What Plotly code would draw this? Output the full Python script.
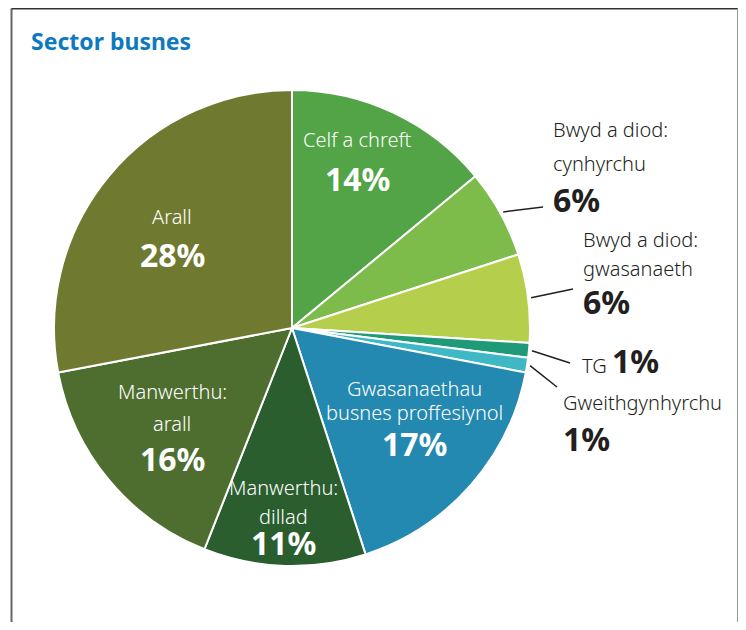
import math

import plotly.graph_objects as go

# data
sectors = [
    "Celf a chreft",
    "Bwyd a diod: cynhyrchu",
    "Bwyd a diod: gwasanaeth",
    "TG",
    "Gweithgynhyrchu",
    "Gwasanaethau busnes proffesiynol",
    "Manwerthu: dillad",
    "Manwerthu: arall",
    "Arall",
]
shares = [14, 6, 6, 1, 1, 17, 11, 16, 28]
label_lines = [
    ["Celf a chreft"],
    ["Bwyd a diod:", "cynhyrchu"],
    ["Bwyd a diod:", "gwasanaeth"],
    ["TG"],
    ["Gweithgynhyrchu"],
    ["Gwasanaethau", "busnes proffesiynol"],
    ["Manwerthu:", "dillad"],
    ["Manwerthu:", "arall"],
    ["Arall"],
]
colors = [
    "#52a447",
    "#7dbb4a",
    "#b5cf4c",
    "#1e9a78",
    "#3fb8c6",
    "#2389b0",
    "#2a5e2e",
    "#4e6e30",
    "#6f7a30",
]

# the page puts the plot 8px in from the top-left corner
OX, OY = 8, 8
W, H = 746 - OX, 630 - 2 * OY
CX, CY, R = 292, 328, 238
FONT = "Noto Sans"
LABEL_SIZE = 20
PCT_SIZE = 32


def px(x, y):
    return (x - OX) / W, 1 - (y - OY) / H


# label layout in page pixels: x, y of each text line, y of the percentage
label_pos = [
    dict(x=357, ys=[139], py=178, inside=True),
    dict(x=551, ys=[130, 163], py=199, inside=False, lead=(543, 207)),
    dict(x=581, ys=[240, 268], py=301, inside=False, lead=(573, 289)),
    dict(x=580, ys=[360], py=None, inside=False, lead=(570, 363)),
    dict(x=561, ys=[403], py=438, inside=False, lead=(557, 387)),
    dict(x=414, ys=[388, 412], py=443, inside=True),
    dict(x=283, ys=[487, 516], py=542, inside=True),
    dict(x=172, ys=[392, 423], py=458, inside=True),
    dict(x=172, ys=[217], py=255, inside=True),
]

x0d, y1d = px(CX - R, CY - R)
x1d, y0d = px(CX + R, CY + R)
fig = go.Figure(
    go.Pie(
        labels=sectors,
        values=shares,
        sort=False,
        direction="clockwise",
        rotation=0,
        marker=dict(colors=colors, line=dict(color="white", width=2)),
        textinfo="none",
        hoverinfo="label+percent",
        domain=dict(x=[x0d, x1d], y=[y0d, y1d]),
        showlegend=False,
    )
)

annotations = []
shapes = []
total = sum(shares)
cum = 0
for lines, v, pos in zip(label_lines, shares, label_pos):
    mid = (cum + v / 2) / total * 2 * math.pi
    cum += v
    col = "white" if pos["inside"] else "#231f20"
    anchor = "center" if pos["inside"] else "left"
    for i, (txt, y) in enumerate(zip(lines, pos["ys"])):
        if pos["py"] is None and i == len(lines) - 1:
            txt = f"{txt} <span style='font-size:{PCT_SIZE}px;font-weight:700'>{v}%</span>"
        xp, yp = px(pos["x"], y)
        annotations.append(
            dict(
                x=xp, y=yp, xref="paper", yref="paper", text=txt,
                showarrow=False, xanchor=anchor, yanchor="middle",
                font=dict(family=FONT, size=LABEL_SIZE, color=col, weight=300),
            )
        )
    if pos["py"] is not None:
        xp, yp = px(pos["x"], pos["py"])
        annotations.append(
            dict(
                x=xp, y=yp, xref="paper", yref="paper", text=f"{v}%",
                showarrow=False, xanchor=anchor, yanchor="middle",
                font=dict(family=FONT, size=PCT_SIZE, color=col, weight=700),
            )
        )
    if "lead" in pos:
        sx = CX + (R + 3) * math.sin(mid)
        sy = CY - (R + 3) * math.cos(mid)
        lx0, ly0 = px(sx, sy)
        lx1, ly1 = px(*pos["lead"])
        shapes.append(
            dict(type="line", xref="paper", yref="paper", x0=lx0, y0=ly0,
                 x1=lx1, y1=ly1, line=dict(color="#231f20", width=1.5))
        )

# frame around the panel (open at the bottom)
frame = [
    ((11.5, 640), (11.5, 8.5), "#666666"),
    ((11.5, 8.5), (738, 8.5), "#333333"),
    ((738, 8.5), (738, 640), "#999999"),
]
for (ax, ay), (bx, by), lc in frame:
    fx0, fy0 = px(ax, ay)
    fx1, fy1 = px(bx, by)
    shapes.append(
        dict(type="line", xref="paper", yref="paper", x0=fx0, y0=fy0,
             x1=fx1, y1=fy1, line=dict(color=lc, width=2))
    )

xp, yp = px(29, 41)
annotations.append(
    dict(
        x=xp, y=yp, xref="paper", yref="paper", text="<b>Sector busnes</b>",
        showarrow=False, xanchor="left", yanchor="middle",
        font=dict(family=FONT, size=23, color="#0f79bf"),
    )
)

fig.update_layout(
    width=W,
    height=H,
    margin=dict(l=0, r=0, t=0, b=0),
    paper_bgcolor="white",
    plot_bgcolor="white",
    annotations=annotations,
    shapes=shapes,
)

fig.write_html("out.html")
